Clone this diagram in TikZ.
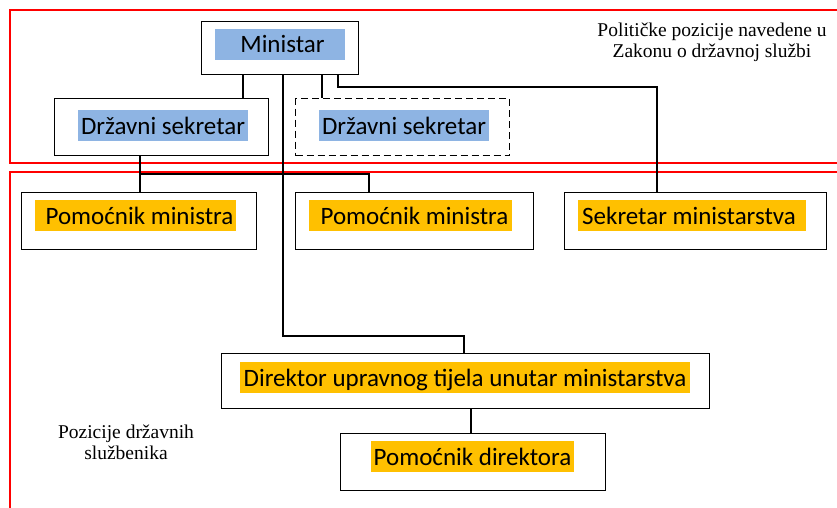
\documentclass[tikz,border=0pt]{standalone}
\usepackage{fontspec}
\newfontfamily\carl{Carlito}
\newfontfamily\tms{Liberation Serif}
\begin{document}
\begin{tikzpicture}[x=1pt,y=-1pt,
  box/.style={draw=black, line width=1.3pt, inner sep=0pt, anchor=north west},
  dbox/.style={box, dash pattern=on 7pt off 4pt},
  hl/.style={inner sep=0pt, minimum height=31pt, text height=19.5pt, text depth=2.5pt, font=\carl\fontsize{25}{25}\selectfont},
  hlblue/.style={hl, fill=hlb},
  hlorange/.style={hl, fill=hlo},
  conn/.style={draw=black, line width=1.3pt},
  redbox/.style={draw=red, line width=2pt},
  lbl/.style={font=\tms\fontsize{19.5}{21}\selectfont, align=center, inner sep=0pt}
]
\definecolor{hlb}{HTML}{8EB4E3}
\definecolor{hlo}{HTML}{FFC000}
\clip (0,0) rectangle (837,508);
\fill[white] (0,0) rectangle (837,508);
% red areas
\draw[redbox] (10,10) rectangle (850,163);
\draw[redbox] (10,172) rectangle (850,520);
% boxes
\node[box, minimum width=157pt, minimum height=53pt] (min) at (201,21) {};
\node[box, minimum width=214pt, minimum height=57pt] (ds1) at (54,98) {};
\node[dbox, minimum width=214pt, minimum height=57pt] (ds2) at (295,98) {};
\node[box, minimum width=235pt, minimum height=57pt] (pm1) at (21,192) {};
\node[box, minimum width=238pt, minimum height=57pt] (pm2) at (295,192) {};
\node[box, minimum width=262pt, minimum height=57pt] (sek) at (564,192) {};
\node[box, minimum width=488pt, minimum height=55pt] (dir) at (221,353) {};
\node[box, minimum width=265pt, minimum height=57pt] (pd) at (340,433) {};
% highlighted texts
\node[hlblue, minimum width=130pt] (minT) at (280,44.5) {\hspace*{5pt}Ministar};
\node[hlblue, minimum width=170pt] (ds1T) at (163,125.5) {Državni sekretar};
\node[hlblue, minimum width=170pt] (ds2T) at (404,125.5) {Državni sekretar};
\node[hlorange, minimum width=201pt] (pm1T) at (135.5,215.5) {\hspace*{8pt}Pomoćnik ministra};
\node[hlorange, minimum width=203pt] (pm2T) at (410.5,215.5) {\hspace*{8pt}Pomoćnik ministra};
\node[hlorange, minimum width=228pt] (sekT) at (692,215.5) {Sekretar ministarstva\hspace*{6pt}};
\node[hlorange, minimum width=450pt] (dirT) at (465,377.5) {Direktor upravnog tijela unutar ministarstva};
\node[hlorange, minimum width=203pt] (pdT) at (472.5,456.5) {Pomoćnik direktora};
% labels
\node[lbl] (polT) at (712,42) {Političke pozicije navedene u\\Zakonu o državnoj službi};
\node[lbl] (drzT) at (126,442) {Pozicije državnih\\službenika};
% connectors
\coordinate (c1) at (338,87);
\coordinate (c2) at (464,336);
\coordinate (c3) at (140,174);
\draw[conn] (min.south -| 243,0) -- (ds1.north -| 243,0);
\draw[conn] (min.south -| 322,0) -- (ds2.north -| 322,0);
\draw[conn] (min.south -| c1) -- (c1) -| (sek.north -| 657,0);
\draw[conn] (min.south -| 283,0) |- (c2) -- (dir.north -| c2);
\draw[conn] (ds1.south -| c3) -- (c3) -- (pm1.north -| c3);
\draw[conn] (c3) -| (pm2.north -| 369,0);
\draw[conn] (dir.south -| 471,0) -- (pd.north -| 471,0);
\end{tikzpicture}
\end{document}
